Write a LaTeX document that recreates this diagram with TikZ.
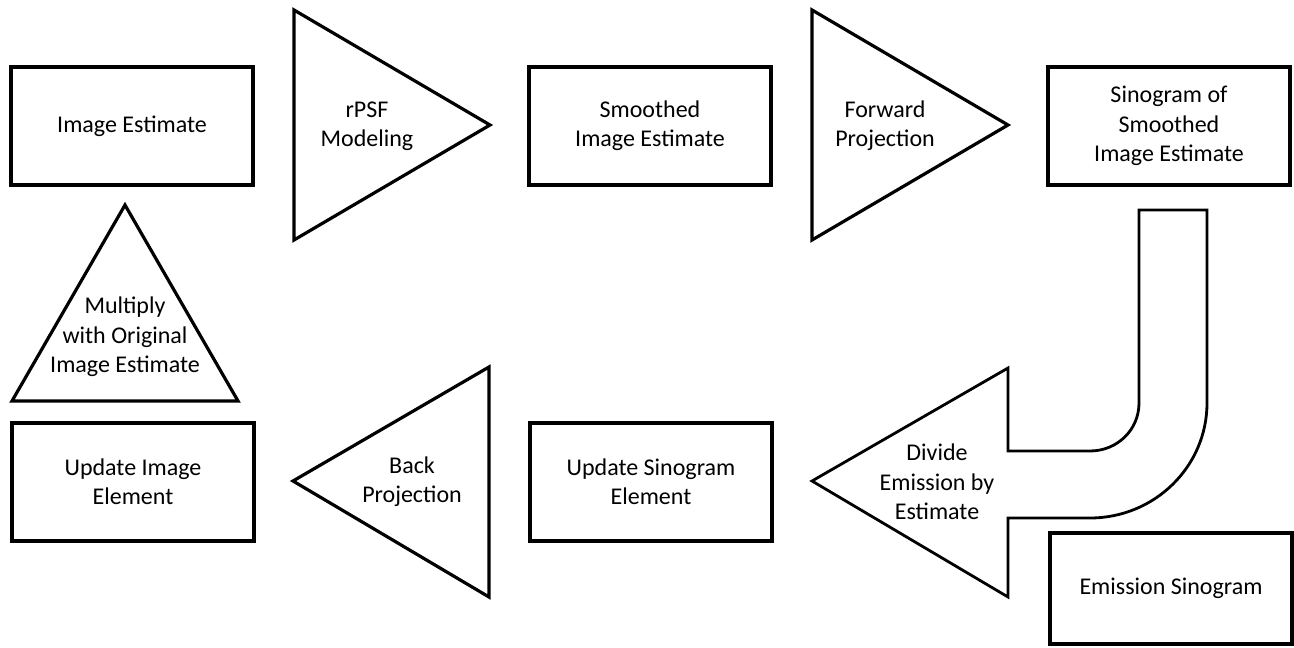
\documentclass[tikz,border=0pt]{standalone}
\usepackage{fontspec}
\setmainfont{Carlito}

\begin{document}
\begin{tikzpicture}[x=0.75pt, y=-0.75pt,
    every node/.style = {font=\fontsize{18}{22}\selectfont, align=center},
    box/.style = {shape=rectangle, draw, line width=2.6pt,
      minimum width=181.5pt, minimum height=88.5pt},
    wedge/.style = {draw, line width=2.4pt, line join=miter},
    bent/.style = {draw, line width=2.1pt, line join=miter}]
  \useasboundingbox (0,0) rectangle (1294,648);

  % boxes
  \node[box] (ie) at (132,126) {Image Estimate};
  \node[box] (sie) at (650,126) {Smoothed\\Image Estimate};
  \node[box] (sino) at (1169,126) {Sinogram of\\Smoothed\\Image Estimate};
  \node[box] (usino) at (651,482) {Update Sinogram\\Element};
  \node[box] (uimg) at (133,482) {Update Image\\Element};
  \node[box, minimum height=83pt] (ems) at (1171,588.5) {Emission Sinogram};

  % triangles
  \draw[wedge] (294,10) -- (490,125) -- (294,240) -- cycle;
  \node (rpsf) at (367,126) {rPSF\\Modeling};
  \draw[wedge] (812,10) -- (1008,125) -- (812,240) -- cycle;
  \node (fp) at (885,126) {Forward\\Projection};
  \draw[wedge] (293,481) -- (489,367) -- (489,597) -- cycle;
  \node (bp) at (412,482) {Back\\Projection};
  \draw[wedge] (125,205) -- (238,401) -- (12,401) -- cycle;
  \node (mult) at (125,337) {Multiply\\with Original\\Image Estimate};

  % bent arrow
  \draw[bent] (812,481) -- (1008,368) -- (1008,451) -- (1090,451)
    .. controls (1117,451) and (1139,430) .. (1139,403)
    -- (1139,210) -- (1207,210) -- (1207,403)
    .. controls (1207,466.5) and (1154.6,518) .. (1090,518)
    -- (1008,518) -- (1008,597) -- cycle;
  \node (div) at (937,482) {Divide\\Emission by\\Estimate};
\end{tikzpicture}
\end{document}
